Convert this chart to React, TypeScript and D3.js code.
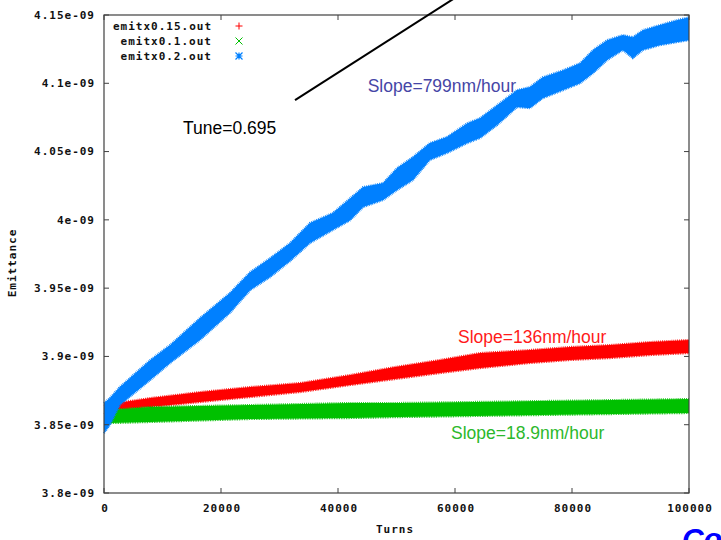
import React from "react";
import * as d3 from "d3";

// Emittance growth vs. turns for three noise amplitudes (values in units of 1e-09)
const xTicks = [0, 20000, 40000, 60000, 80000, 100000];
const yTicks = [3.8, 3.85, 3.9, 3.95, 4.0, 4.05, 4.1, 4.15];
const yTickLabels = ["3.8e-09", "3.85e-09", "3.9e-09", "3.95e-09", "4e-09", "4.05e-09", "4.1e-09", "4.15e-09"];

const seriesNames = ["emitx0.15.out", "emitx0.1.out", "emitx0.2.out"];
const seriesColors = ["#ff0000", "#00c000", "#0080ff"];

// emitx0.15.out : lower / upper envelope of the scatter band
const turnsRed = [0, 2200, 7900, 16400, 25000, 33500, 42100, 49700, 57400, 64300, 72800, 79700, 86500, 93300, 100000];
const redLow = [3.8578, 3.8608, 3.863, 3.8666, 3.8703, 3.8739, 3.8791, 3.8834, 3.8878, 3.8915, 3.8952, 3.8974, 3.8988, 3.901, 3.9025];
const redHigh = [3.8637, 3.8659, 3.8695, 3.8739, 3.8776, 3.8805, 3.8864, 3.8922, 3.8974, 3.9025, 3.9047, 3.9069, 3.9083, 3.9105, 3.912];

// emitx0.1.out
const turnsGreen = [500, 1000, 7900, 25000, 42100, 50600, 74500, 100000];
const greenLow = [3.8498, 3.8512, 3.852, 3.8542, 3.8549, 3.8556, 3.8571, 3.8586];
const greenHigh = [3.86, 3.8608, 3.863, 3.8644, 3.8659, 3.8659, 3.8673, 3.8688];

// emitx0.2.out
const turnsBlue = [0, 1000, 2700, 7900, 11300, 16400, 21500, 25000, 28400, 31800, 35200, 39100, 42100, 44300, 47700, 50100, 52800, 55700, 58600, 62100, 64300, 67200, 70600, 72800, 75000, 78500, 81400, 83600, 86000, 88700, 90400, 92100, 95000, 97900, 100000];
const blueLow = [3.8439, 3.8498, 3.8644, 3.8827, 3.8952, 3.912, 3.9318, 3.9486, 3.9581, 3.9698, 3.983, 3.9925, 3.9998, 4.0094, 4.0145, 4.0218, 4.0291, 4.0438, 4.0489, 4.0562, 4.0599, 4.0694, 4.0826, 4.0818, 4.0891, 4.095, 4.1001, 4.1074, 4.117, 4.1243, 4.1184, 4.1243, 4.1279, 4.1301, 4.1316];
const blueHigh = [3.8659, 3.8696, 3.8776, 3.8974, 3.9084, 3.9281, 3.9464, 3.9618, 3.972, 3.983, 3.9977, 4.005, 4.0159, 4.024, 4.0269, 4.0379, 4.046, 4.0562, 4.0606, 4.0708, 4.0745, 4.084, 4.095, 4.0972, 4.1045, 4.1096, 4.1148, 4.1243, 4.1316, 4.1353, 4.1338, 4.1389, 4.1426, 4.1462, 4.1484];

// Fit guide line endpoints (turns, emittance)
const guideTurns = [32650, 62000];
const guideValues = [4.0877, 4.168];

const W = 721;
const H = 540;
const plot = { left: 104, right: 689, top: 15, bottom: 493 };

const x = d3.scaleLinear().domain([0, 100000]).range([plot.left, plot.right]);
const y = d3.scaleLinear().domain([3.8, 4.15]).range([plot.bottom, plot.top]);

const monoFont = "'DejaVu Sans Mono', 'Liberation Mono', monospace";
const sansFont = "'Liberation Sans', Arial, sans-serif";

function Band({ turns, low, high, color }: { turns: number[]; low: number[]; high: number[]; color: string }) {
  const idx = turns.map((_, i) => i);
  const area = d3
    .area<number>()
    .x((i) => x(turns[i]))
    .y0((i) => y(low[i]))
    .y1((i) => y(high[i]));
  const lowLine = d3.line<number>().x((i) => x(turns[i])).y((i) => y(low[i]));
  const highLine = d3.line<number>().x((i) => x(turns[i])).y((i) => y(high[i]));
  return (
    <g>
      <path d={area(idx) || ""} fill={color} />
      <path d={lowLine(idx) || ""} fill="none" stroke={color} strokeWidth={2.2} strokeDasharray="0.8 0.9" />
      <path d={highLine(idx) || ""} fill="none" stroke={color} strokeWidth={2.2} strokeDasharray="0.8 1.1" />
    </g>
  );
}

function Marker({ kind, cx, cy, color }: { kind: number; cx: number; cy: number; color: string }) {
  const r = 3.5;
  if (kind === 0) {
    return <path d={`M${cx - r},${cy}H${cx + r}M${cx},${cy - r}V${cy + r}`} stroke={color} strokeWidth={1} />;
  }
  if (kind === 1) {
    return <path d={`M${cx - r},${cy - r}L${cx + r},${cy + r}M${cx - r},${cy + r}L${cx + r},${cy - r}`} stroke={color} strokeWidth={1} />;
  }
  return (
    <path
      d={`M${cx - r},${cy}H${cx + r}M${cx},${cy - r}V${cy + r}M${cx - r},${cy - r}L${cx + r},${cy + r}M${cx - r},${cy + r}L${cx + r},${cy - r}`}
      stroke={color}
      strokeWidth={1.2}
    />
  );
}

export default function App() {
  const tickLen = 5;
  const axisColor = "#404040";
  const tickText = { fontFamily: monoFont, fontSize: 11, fontWeight: 700, letterSpacing: 1, fill: "#111" } as const;
  const guide = d3.line<number>().x((i) => x(guideTurns[i])).y((i) => y(guideValues[i]));

  return (
    <svg width={W} height={H} style={{ position: "absolute", left: 0, top: 0, background: "#fff" }}>
      <defs>
        <clipPath id="pageClip">
          <rect x={0} y={0} width={712} height={H} />
        </clipPath>
      </defs>
      <rect x={0} y={0} width={W} height={H} fill="#fff" />

      {/* data bands, drawn in plotting order */}
      <Band turns={turnsRed} low={redLow} high={redHigh} color={seriesColors[0]} />
      <Band turns={turnsGreen} low={greenLow} high={greenHigh} color={seriesColors[1]} />
      <Band turns={turnsBlue} low={blueLow} high={blueHigh} color={seriesColors[2]} />

      {/* frame */}
      <rect
        x={plot.left}
        y={plot.top}
        width={plot.right - plot.left}
        height={plot.bottom - plot.top}
        fill="none"
        stroke={axisColor}
        strokeWidth={1.2}
      />

      {/* y ticks */}
      {yTicks.map((v, i) => (
        <g key={`y${i}`}>
          <line x1={plot.left} x2={plot.left + tickLen} y1={y(v)} y2={y(v)} stroke={axisColor} />
          <line x1={plot.right} x2={plot.right - tickLen} y1={y(v)} y2={y(v)} stroke={axisColor} />
          <text x={plot.left - 9} y={y(v)} dy="0.35em" textAnchor="end" {...tickText}>
            {yTickLabels[i]}
          </text>
        </g>
      ))}

      {/* x ticks */}
      <g clipPath="url(#pageClip)">
        {xTicks.map((t, i) => (
          <g key={`x${i}`}>
            <line x1={x(t)} x2={x(t)} y1={plot.bottom} y2={plot.bottom - tickLen} stroke={axisColor} />
            <line x1={x(t)} x2={x(t)} y1={plot.top} y2={plot.top + tickLen} stroke={axisColor} />
            <text x={x(t) + 1} y={508} dy="0.35em" textAnchor="middle" {...tickText}>
              {String(t)}
            </text>
          </g>
        ))}
      </g>

      {/* axis titles */}
      <text x={395} y={529} dy="0.35em" textAnchor="middle" {...tickText}>
        Turns
      </text>
      <text
        transform="translate(12,263) rotate(-90)"
        textAnchor="middle"
        dy="0.35em"
        {...tickText}
      >
        Emittance
      </text>

      {/* legend */}
      {seriesNames.map((name, i) => (
        <g key={name}>
          <text x={212} y={26 + i * 15} dy="0.35em" textAnchor="end" {...tickText}>
            {name}
          </text>
          <Marker kind={i} cx={239} cy={26 + i * 15} color={seriesColors[i]} />
        </g>
      ))}

      {/* fit guide and annotations */}
      <path d={guide([0, 1]) || ""} stroke="#000" strokeWidth={2} fill="none" />
      <text x={x(45070)} y={y(4.0935)} fontFamily={sansFont} fontSize={17.5} fill="#4646a6">
        Slope=799nm/hour
      </text>
      <text x={x(13500)} y={y(4.0628)} fontFamily={sansFont} fontSize={17.5} fill="#000">
        Tune=0.695
      </text>
      <text x={x(60510)} y={y(3.9098)} fontFamily={sansFont} fontSize={17.5} fill="#ff1a1a">
        Slope=136nm/hour
      </text>
      <text x={x(59320)} y={y(3.8395)} fontFamily={sansFont} fontSize={17.5} fill="#2cb82c">
        Slope=18.9nm/hour
      </text>

      {/* slide heading peeking in at the corner */}
      <text x={682} y={549} fontFamily={sansFont} fontSize={30} fontStyle="italic" fontWeight={700} fill="#0000ff">
        Co
      </text>
    </svg>
  );
}
